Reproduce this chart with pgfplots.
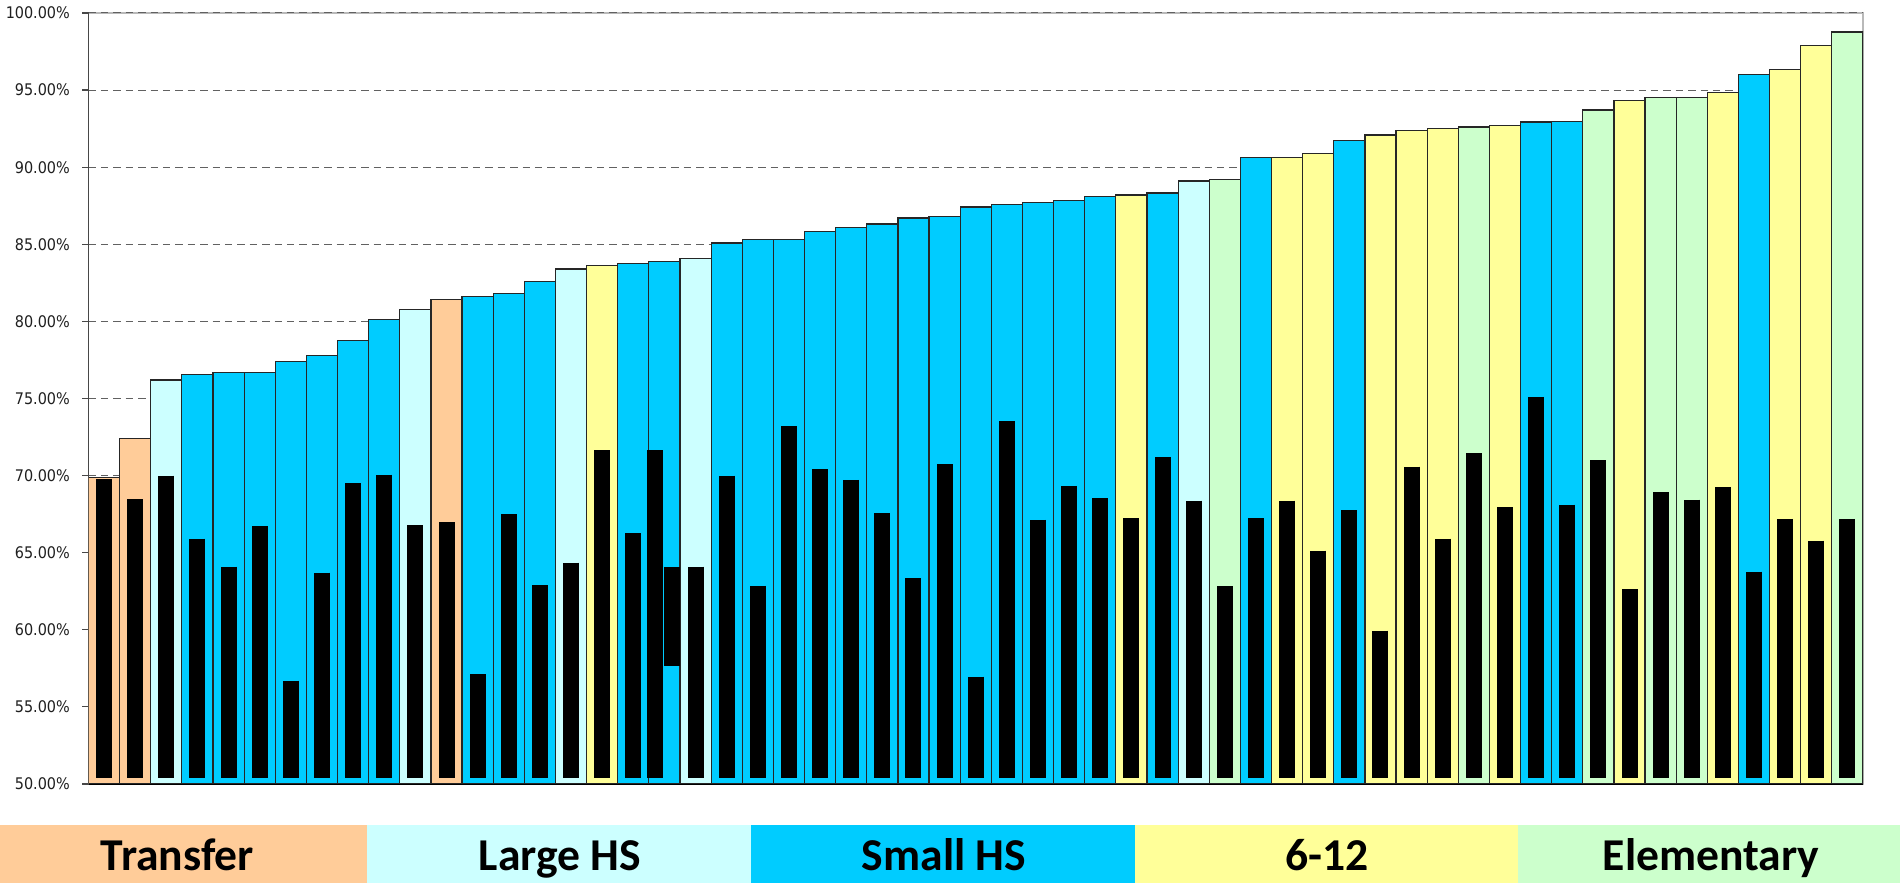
\documentclass[border=0pt]{standalone}
\usepackage{fontspec}
\setmainfont{DejaVu Sans}
\newfontfamily\tickfont[FakeStretch=0.9]{DejaVu Sans}
\newfontfamily\bandfont{Carlito}
\usepackage{pgfplots}
\usepackage{pgfplotstable}
\pgfplotsset{compat=1.18}
\definecolor{cT}{HTML}{FFCC99}
\definecolor{cL}{HTML}{CCFFFF}
\definecolor{cS}{HTML}{00CCFF}
\definecolor{cY}{HTML}{FFFF99}
\definecolor{cG}{HTML}{CCFFCC}

\pgfplotstableread{
i top
1 69.88
2 72.38
12 81.44
}\tabT
\pgfplotstableread{
i top
3 76.20
11 80.75
16 83.40
20 84.08
36 89.10
}\tabL
\pgfplotstableread{
i top
4 76.58
5 76.67
6 76.66
7 77.38
8 77.79
9 78.77
10 80.14
13 81.60
14 81.80
15 82.60
18 83.73
19 83.89
21 85.08
22 85.32
23 85.33
24 85.81
25 86.11
26 86.31
27 86.70
28 86.81
29 87.42
30 87.59
31 87.71
32 87.83
33 88.12
35 88.32
38 90.61
41 91.71
47 92.93
48 92.94
54 95.99
}\tabS
\pgfplotstableread{
i top
17 83.60
34 88.20
39 90.62
40 90.90
42 92.09
43 92.38
44 92.49
46 92.70
50 94.30
53 94.83
55 96.32
56 97.91
}\tabY
\pgfplotstableread{
i top
37 89.19
45 92.61
49 93.71
51 94.50
52 94.51
57 98.77
}\tabG
\pgfplotstableread{
i b lo
1 69.78 50.4
2 68.46 50.4
3 70.00 50.4
4 65.92 50.4
5 64.10 50.4
6 66.70 50.4
7 56.70 50.4
8 63.71 50.4
9 69.50 50.4
10 70.07 50.4
11 66.79 50.4
12 66.97 50.4
13 57.12 50.4
14 67.50 50.4
15 62.90 50.4
16 64.35 50.4
17 71.65 50.4
18 66.25 50.4
18.69 71.65 50.4
19.23 64.05 57.62
20 64.10 50.4
21 70.00 50.4
22 62.85 50.4
23 73.20 50.4
24 70.40 50.4
25 69.72 50.4
26 67.57 50.4
27 63.33 50.4
28 70.72 50.4
29 56.96 50.4
30 73.51 50.4
31 67.13 50.4
32 69.33 50.4
33 68.52 50.4
34 67.22 50.4
35 71.22 50.4
36 68.38 50.4
37 62.81 50.4
38 67.22 50.4
39 68.38 50.4
40 65.13 50.4
41 67.74 50.4
42 59.94 50.4
43 70.58 50.4
44 65.91 50.4
45 71.45 50.4
46 67.94 50.4
47 75.10 50.4
48 68.12 50.4
49 71.01 50.4
50 62.62 50.4
51 68.91 50.4
52 68.44 50.4
53 69.27 50.4
54 63.77 50.4
55 67.19 50.4
56 65.79 50.4
57 67.19 50.4
}\tabB

\begin{document}
\begin{tikzpicture}[x=1pt,y=1pt]
\useasboundingbox (0,0) rectangle (950,441.5);
% category bands
\fill[cT] (0,0) rectangle (183.5,29);
\fill[cL] (183.5,0) rectangle (375.5,29);
\fill[cS] (375.5,0) rectangle (567.5,29);
\fill[cY] (567.5,0) rectangle (759,29);
\fill[cG] (759,0) rectangle (950,29);
\begin{scope}[every node/.style={anchor=base, inner sep=0pt, font=\bandfont\bfseries\fontsize{22.8}{24}\selectfont}]
\node at (88.75,6) {Transfer};
\node at (280,6) {Large HS};
\node at (472,6) {Small HS};
\node at (663.5,6) {6-12};
\node at (855.5,6) {Elementary};
\end{scope}

\begin{axis}[
  at={(44.25pt,49.5pt)}, anchor=south west,
  scale only axis, width=887.25pt, height=385.5pt,
  xmin=0.5, xmax=57.5, ymin=50, ymax=100,
  axis x line*=bottom, axis y line*=left,
  x axis line style={black, line width=0.75pt},
  y axis line style={black!72, line width=0.9pt},
  axis background/.style={draw=gray!55, line width=0.8pt},
  xtick=\empty,
  ytick={50,55,...,100},
  tick align=outside, major tick length=3pt,
  ytick style={black!72, line width=0.6pt},
  ymajorgrids,
  grid style={black!62, line width=0.5pt, dash pattern=on 3.7pt off 2.5pt},
  /pgf/number format/assume math mode=true,
  yticklabel={\pgfmathprintnumber[fixed,fixed zerofill,precision=2]{\tick}\%},
  yticklabel style={font=\tickfont\fontsize{8}{9}\selectfont, text=black!88, xshift=-2.8pt},
  clip=true,
]
\addplot[ybar, bar width=1, bar shift=0pt, fill=cT, draw=black!85, line width=0.6pt] table[x=i,y=top] {\tabT};
\addplot[ybar, bar width=1, bar shift=0pt, fill=cL, draw=black!85, line width=0.6pt] table[x=i,y=top] {\tabL};
\addplot[ybar, bar width=1, bar shift=0pt, fill=cS, draw=black!85, line width=0.6pt] table[x=i,y=top] {\tabS};
\addplot[ybar, bar width=1, bar shift=0pt, fill=cY, draw=black!85, line width=0.6pt] table[x=i,y=top] {\tabY};
\addplot[ybar, bar width=1, bar shift=0pt, fill=cG, draw=black!85, line width=0.6pt] table[x=i,y=top] {\tabG};
\addplot[draw=none, mark=none,
  error bars/.cd, y dir=minus, y explicit, error mark=none,
  error bar style={draw=black, solid, line width=8pt}]
  table[x=i, y=b, y error minus expr=\thisrow{b}-\thisrow{lo}] {\tabB};
\end{axis}
\end{tikzpicture}
\end{document}
